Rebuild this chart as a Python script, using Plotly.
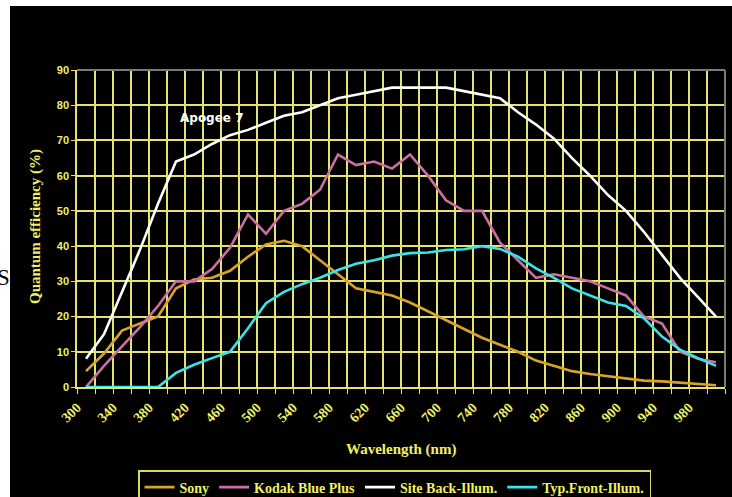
import plotly.graph_objects as go

# ---- data ----
wavelength = [300 + 20 * i for i in range(36)]  # 300 ... 1000 nm (categories)
tick_labels = [300 + 40 * i for i in range(18)]  # 300 ... 980

sony = [4.5, 9.5, 16, 18, 20, 28, 30.5, 31, 33, 37, 40.5, 41.5, 40, 36, 32, 28, 27, 26,
        24, 21.5, 19, 16.5, 14, 12, 10, 7.5, 6, 4.5, 3.7, 3, 2.4, 1.8, 1.6, 1.3, 0.8, 0.5]
kodak = [0, 6, 11.5, 17, 23, 30, 30, 33.5, 39.5, 49, 43.5, 50, 52, 56, 66, 63, 64, 62,
         66, 60, 53, 50, 50, 41, 36, 31, 32, 31, 30, 28, 26, 20, 18, 10, 8, 7]
site_back = [8, 15, 27, 39, 52, 64, 66, 69, 71.5, 73, 75, 77, 78, 80, 82, 83, 84, 85,
             85, 85, 85, 84, 83, 82, 78, 74.5, 70.5, 65, 60, 54.5, 50, 44, 37.5, 31, 25.5, 20]
typ_front = [0, 0, 0, 0, 0, 4, 6.3, 8.2, 10, 16.7, 23.8, 27, 29.2, 31, 33.2, 35, 36, 37.3,
             38, 38.2, 38.9, 39.1, 40, 39.2, 37, 33.7, 31, 28, 26, 24, 23, 19.5, 14.3, 10.6, 8.2, 6]

series = [
    ("Sony", sony, "#D8A428"),
    ("Kodak Blue Plus", kodak, "#CC6FA2"),
    ("Site Back-Illum.", site_back, "#FFFFFF"),
    ("Typ.Front-Illum.", typ_front, "#3CE2EA"),
]

# category boundaries (where the chart draws its vertical grid lines)
step = wavelength[1] - wavelength[0]
boundaries = [w - step / 2 for w in wavelength] + [wavelength[-1] + step / 2]

YEL = "#F0F064"
GRID = "#E4E46A"
SERIF = "Liberation Serif, Times New Roman, serif"

W, H = 732, 497
ML, MR, MT, MB = 77, 7, 70, 110
PW, PH = W - ML - MR, H - MT - MB


def px2paper_x(px):
    return (px - ML) / PW


def px2paper_y(py):
    return (H - MB - py) / PH


fig = go.Figure()
for name, vals, col in series:
    fig.add_trace(go.Scatter(x=wavelength, y=vals, name=name, mode="lines",
                             line=dict(color=col, width=2.6)))

fig.update_layout(
    width=W, height=H,
    margin=dict(l=ML, r=MR, t=MT, b=MB, autoexpand=False),
    paper_bgcolor="white",
    plot_bgcolor="black",
    showlegend=True,
    legend=dict(orientation="h", x=0.49, xanchor="center", y=px2paper_y(470), yanchor="top",
                bgcolor="black", bordercolor="#D9D95E", borderwidth=1.5,
                font=dict(family=SERIF, size=14, color=YEL, weight="bold"),
                itemwidth=30, tracegroupgap=0),
    shapes=[
        dict(type="rect", xref="paper", yref="paper", layer="below",
             x0=px2paper_x(10), x1=px2paper_x(740), y0=px2paper_y(505), y1=px2paper_y(6),
             fillcolor="black", line=dict(width=0)),
        dict(type="line", xref="paper", yref="paper", x0=0, x1=1, y0=1, y1=1,
             line=dict(color="#7A7A7A", width=2)),
        dict(type="line", xref="paper", yref="paper", x0=1, x1=1, y0=0, y1=1,
             line=dict(color="#7A7A7A", width=2)),
    ],
    annotations=[
        dict(text="<b>Apogee 7</b>", x=440, y=76.4, xref="x", yref="y", showarrow=False,
             xanchor="center", yanchor="middle",
             font=dict(family="DejaVu Sans", size=12, color="white")),
        dict(text="<b>Wavelength (nm)</b>", x=px2paper_x(401), y=px2paper_y(449),
             xref="paper", yref="paper", showarrow=False, xanchor="center", yanchor="middle",
             font=dict(family=SERIF, size=15, color=YEL)),
        dict(text="<b>Quantum efficiency (%)</b>", x=px2paper_x(35), y=px2paper_y(227),
             textangle=-90, xref="paper", yref="paper", showarrow=False,
             xanchor="center", yanchor="middle",
             font=dict(family=SERIF, size=15, color=YEL)),
        dict(text="S", x=px2paper_x(3), y=px2paper_y(277), xref="paper", yref="paper",
             showarrow=False, xanchor="center", yanchor="middle",
             font=dict(family=SERIF, size=23, color="black")),
    ],
    xaxis=dict(
        range=[boundaries[0], boundaries[-1]], tickmode="array", tickvals=tick_labels,
        ticktext=[str(v) for v in tick_labels], tickangle=-45, ticklabelshift=-9,
        ticklabelstandoff=5,
        showgrid=False, ticks="", zeroline=False,
        showline=True, linecolor=GRID, linewidth=1.5,
        tickfont=dict(family=SERIF, size=14, color=YEL, weight="bold"),
        minor=dict(tickmode="array", tickvals=boundaries, showgrid=True, gridcolor=GRID,
                   gridwidth=1.5, ticks="outside", ticklen=5, tickcolor=GRID, tickwidth=1.3),
    ),
    yaxis=dict(
        range=[0, 90], dtick=10, showgrid=True, gridcolor=GRID, gridwidth=1.5,
        zeroline=False, showline=True, linecolor=GRID, linewidth=1.5,
        ticks="outside", ticklen=4, tickcolor=GRID,
        tickfont=dict(family="Liberation Sans Narrow, Liberation Sans, Arial", size=11,
                      color=YEL, weight="bold"),
    ),
)

fig.write_html("out.html", config={"displayModeBar": False},
               post_script="document.body.style.margin='0';")
